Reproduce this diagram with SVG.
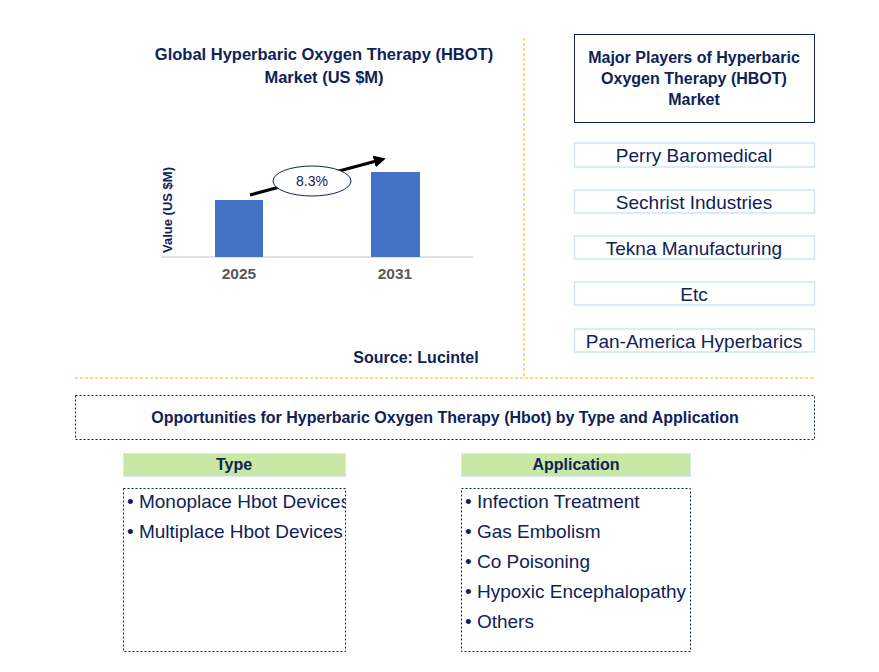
<svg xmlns="http://www.w3.org/2000/svg" width="879" height="672" viewBox="0 0 879 672">
<style>
text{font-family:"Liberation Sans",Arial,sans-serif;fill:#0f2257}
.b{font-weight:bold}
.t16{font-size:16px}
.t19{font-size:19px}
.player{fill:#fff;stroke:#cfe6f5;stroke-width:1.5}
.dot{fill:#fff;stroke:#0f2257;stroke-width:1;stroke-dasharray:2,2}
.hdr{fill:#c8e6a4;stroke:#d4eaf7;stroke-width:1}
.sep{stroke:#f5b800;stroke-width:1;stroke-dasharray:3,2;fill:none}
.bar{fill:#4472c4}
</style>
<defs>
<marker id="ah" viewBox="0 0 10 10" refX="5" refY="5" markerWidth="4" markerHeight="4" orient="auto">
<path d="M0,0 L10,5 L0,10 z" fill="#000"/>
</marker>
<clipPath id="typeclip"><rect x="123" y="488" width="222" height="163"/></clipPath>
</defs>
<rect width="879" height="672" fill="#fff"/>

<g id="separators">
<line class="sep" x1="524" y1="38" x2="524" y2="378"/>
<line class="sep" x1="75" y1="378" x2="815" y2="378"/>
</g>

<g id="chart">
<text class="b" font-size="16.5" x="324" y="60" text-anchor="middle">Global Hyperbaric Oxygen Therapy (HBOT)</text>
<text class="b" font-size="16.5" x="324" y="83" text-anchor="middle">Market (US $M)</text>
<line x1="161" y1="257" x2="473" y2="257" stroke="#d9d9d9" stroke-width="1.5"/>
<rect class="bar" x="215" y="200" width="48" height="57"/>
<rect class="bar" x="371" y="172" width="49" height="85"/>
<text class="b" font-size="15.5" x="239" y="279" text-anchor="middle" style="fill:#595959">2025</text>
<text class="b" font-size="15.5" x="395" y="279" text-anchor="middle" style="fill:#595959">2031</text>
<text class="b" x="0" y="0" font-size="13" text-anchor="middle" transform="translate(172,210) rotate(-90)">Value (US $M)</text>
<text class="b t16" x="416" y="363" text-anchor="middle">Source: Lucintel</text>
</g>

<g id="connectors">
<line x1="250" y1="195" x2="380" y2="160" stroke="#000" stroke-width="3" marker-end="url(#ah)"/>
</g>

<g id="cagr">
<ellipse cx="312" cy="181" rx="39" ry="15" fill="#fff" stroke="#0f2257" stroke-width="1"/>
<text x="312" y="186" font-size="14" text-anchor="middle">8.3%</text>
</g>

<g id="players-title">
<rect x="574.5" y="34.5" width="240" height="88" fill="#fff" stroke="#0f2257" stroke-width="1"/>
<text class="b t16" x="694" y="63" text-anchor="middle">Major Players of Hyperbaric</text>
<text class="b t16" x="694" y="84" text-anchor="middle">Oxygen Therapy (HBOT)</text>
<text class="b t16" x="694" y="105" text-anchor="middle">Market</text>
</g>
<g id="player-perry">
<rect class="player" x="574.5" y="143" width="240" height="24"/>
<text class="t19" x="694" y="162" text-anchor="middle">Perry Baromedical</text>
</g>
<g id="player-sechrist">
<rect class="player" x="574.5" y="190" width="240" height="23"/>
<text class="t19" x="694" y="209" text-anchor="middle">Sechrist Industries</text>
</g>
<g id="player-tekna">
<rect class="player" x="574.5" y="236" width="240" height="23"/>
<text class="t19" x="694" y="255" text-anchor="middle">Tekna Manufacturing</text>
</g>
<g id="player-etc">
<rect class="player" x="574.5" y="282" width="240" height="23"/>
<text class="t19" x="694" y="301" text-anchor="middle">Etc</text>
</g>
<g id="player-pan">
<rect class="player" x="574.5" y="329" width="240" height="23"/>
<text class="t19" x="694" y="348" text-anchor="middle">Pan-America Hyperbarics</text>
</g>

<g id="opportunities">
<rect class="dot" x="75.5" y="395.5" width="739" height="44"/>
<text class="b t16" x="445" y="423" text-anchor="middle">Opportunities for Hyperbaric Oxygen Therapy (Hbot) by Type and Application</text>
</g>

<g id="type-header">
<rect class="hdr" x="123.5" y="453.5" width="222" height="23"/>
<text class="b t16" x="234" y="470" text-anchor="middle">Type</text>
</g>
<g id="type-list">
<rect class="dot" x="123.5" y="488.5" width="222" height="163"/>
<g clip-path="url(#typeclip)">
<text class="t19" x="127" y="508">• Monoplace Hbot Devices</text>
<text class="t19" x="127" y="538">• Multiplace Hbot Devices</text>
</g>
</g>

<g id="application-header">
<rect class="hdr" x="461.5" y="453.5" width="229" height="23"/>
<text class="b t16" x="576" y="470" text-anchor="middle">Application</text>
</g>
<g id="application-list">
<rect class="dot" x="461.5" y="488.5" width="229" height="163"/>
<text class="t19" x="465" y="508">• Infection Treatment</text>
<text class="t19" x="465" y="538">• Gas Embolism</text>
<text class="t19" x="465" y="568">• Co Poisoning</text>
<text class="t19" x="465" y="598">• Hypoxic Encephalopathy</text>
<text class="t19" x="465" y="628">• Others</text>
</g>
</svg>
